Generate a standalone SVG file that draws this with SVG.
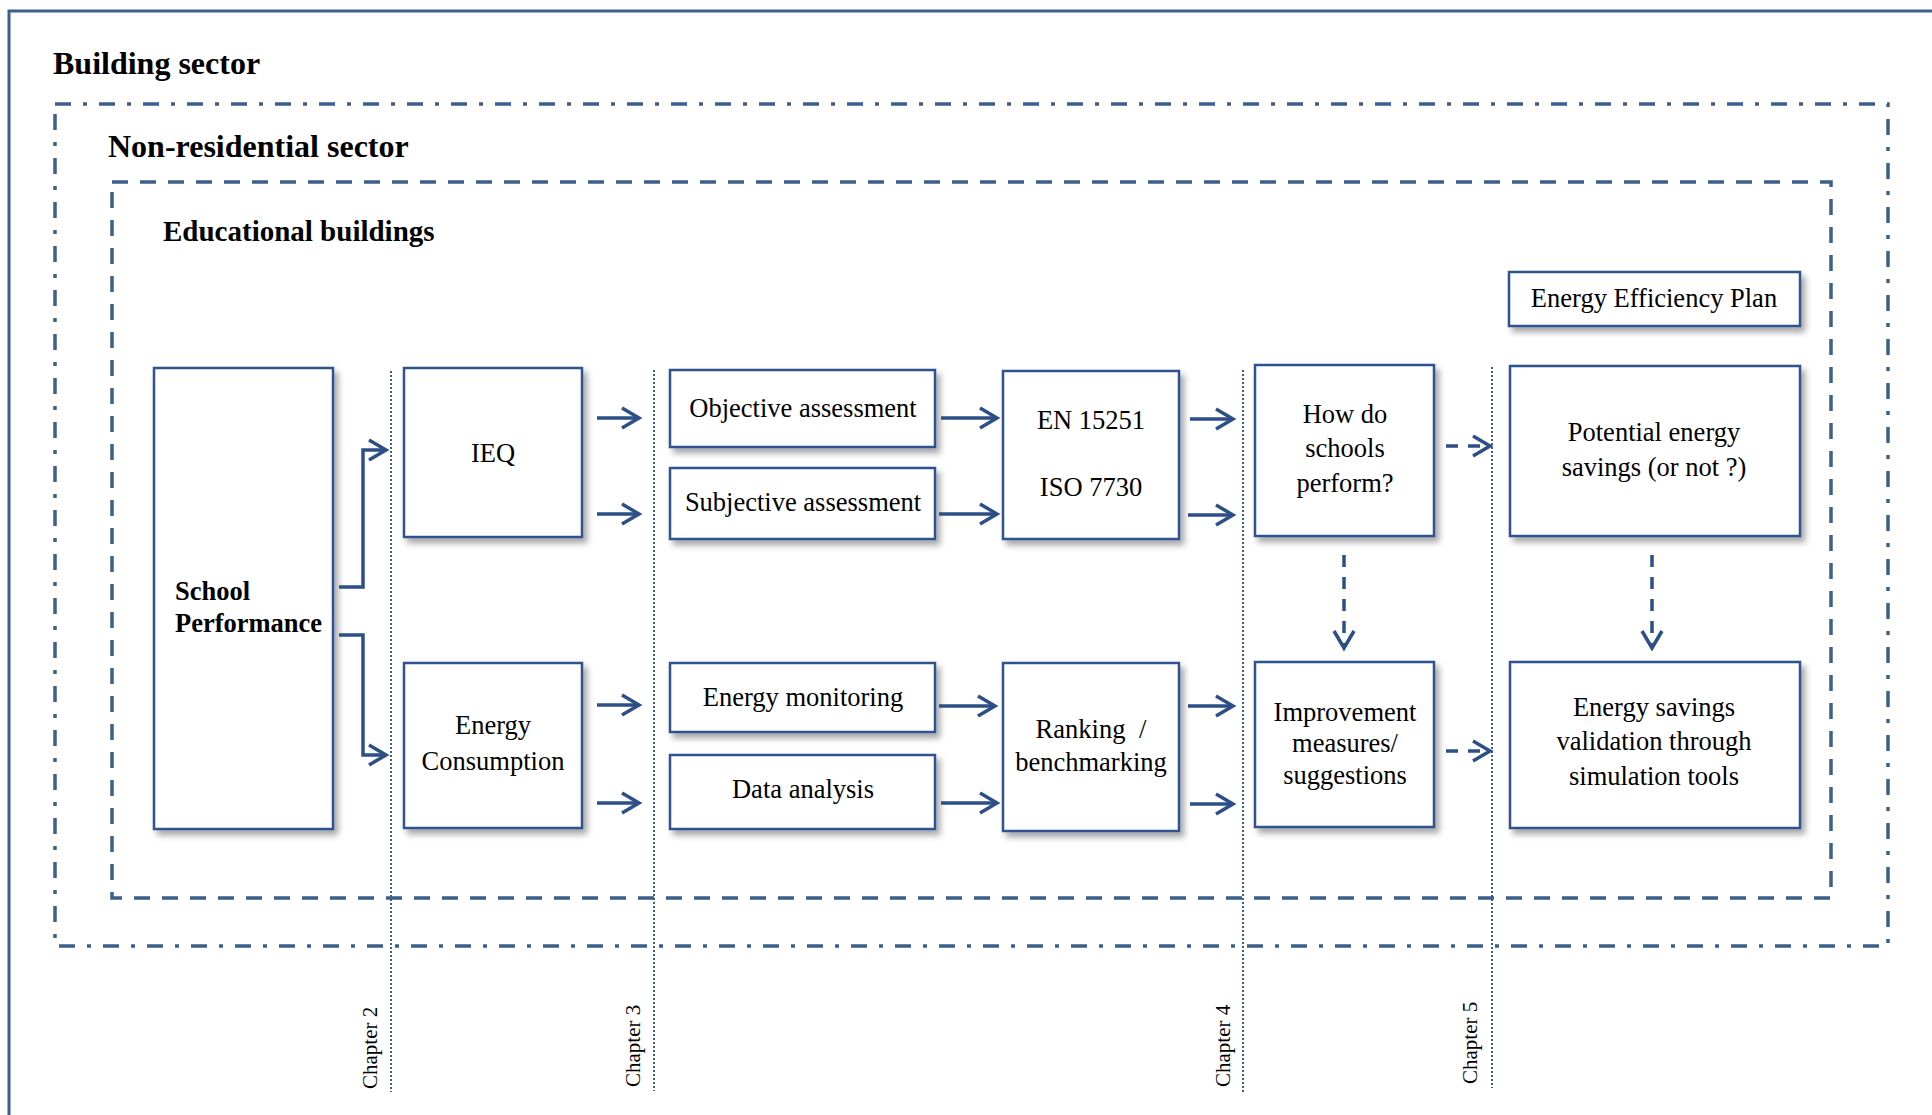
<svg xmlns="http://www.w3.org/2000/svg" width="1932" height="1115" viewBox="0 0 1932 1115">
<defs>
<style>
.frame{fill:none;stroke:#3d5f8c;}
.box{fill:#ffffff;stroke:#2f528f;stroke-width:2.5;filter:url(#sh);}
.t{font-family:"Liberation Serif","Times New Roman",serif;font-size:26.5px;fill:#000;text-anchor:middle;}
.tb{font-family:"Liberation Serif","Times New Roman",serif;font-weight:bold;fill:#000;}
.ch{font-family:"Liberation Serif","Times New Roman",serif;font-size:21px;fill:#000;}
.arr{fill:none;stroke:#2b4f86;stroke-width:3.5;marker-end:url(#ah);}
.darr{fill:none;stroke:#2b4f86;stroke-width:3.5;stroke-dasharray:12,10;marker-end:url(#ah);}
.chl{fill:none;stroke:#3d5f8c;stroke-width:2;stroke-dasharray:2,2;}
</style>
<filter id="sh" x="-10%" y="-10%" width="130%" height="130%">
<feDropShadow dx="4" dy="5" stdDeviation="3" flood-color="#000" flood-opacity="0.35"/>
</filter>
<marker id="ah" viewBox="-20 -12 24 24" markerWidth="24" markerHeight="24" refX="0" refY="0" orient="auto" markerUnits="userSpaceOnUse">
<path d="M-17,-10 L0,0 L-17,10" fill="none" stroke="#2b4f86" stroke-width="3.5" stroke-linejoin="miter"/>
</marker>
</defs>

<g id="frames">
<rect class="frame" x="9" y="11" width="2000" height="2000" stroke-width="3"/>
<rect class="frame" x="55" y="104" width="1833" height="842" stroke-width="3.5" stroke-dasharray="16,12,4,12"/>
<rect class="frame" x="112" y="182" width="1719" height="716" stroke-width="3.5" stroke-dasharray="16,12"/>
<text class="tb" x="53" y="74" font-size="32">Building sector</text>
<text class="tb" x="108" y="157" font-size="32">Non-residential sector</text>
<text class="tb" x="163" y="241" font-size="29">Educational buildings</text>
</g>

<g id="chapters">
<line class="chl" x1="391" y1="371" x2="391" y2="1092"/>
<line class="chl" x1="654" y1="370" x2="654" y2="1091"/>
<line class="chl" x1="1243" y1="370" x2="1243" y2="1092"/>
<line class="chl" x1="1492" y1="367" x2="1492" y2="1088" stroke-width="3" stroke-dasharray="3,3"/>
<text class="ch" transform="translate(377,1089) rotate(-90)">Chapter 2</text>
<text class="ch" transform="translate(640,1087) rotate(-90)">Chapter 3</text>
<text class="ch" transform="translate(1230,1087) rotate(-90)">Chapter 4</text>
<text class="ch" transform="translate(1477,1084) rotate(-90)">Chapter 5</text>
</g>

<g id="n-school">
<rect class="box" x="154" y="368" width="179" height="461"/>
<text class="tb" font-size="26.5" x="175" y="600">School</text>
<text class="tb" font-size="26.5" x="175" y="632">Performance</text>
</g>
<g id="n-ieq">
<rect class="box" x="404" y="368" width="178" height="169"/>
<text class="t" x="493" y="462">IEQ</text>
</g>
<g id="n-energy">
<rect class="box" x="404" y="663" width="178" height="165"/>
<text class="t" x="493" y="734">Energy</text>
<text class="t" x="493" y="770">Consumption</text>
</g>
<g id="n-objective">
<rect class="box" x="670" y="370" width="265" height="77"/>
<text class="t" x="803" y="417">Objective assessment</text>
</g>
<g id="n-subjective">
<rect class="box" x="670" y="468" width="265" height="71"/>
<text class="t" x="803" y="511">Subjective assessment</text>
</g>
<g id="n-en">
<rect class="box" x="1003" y="371" width="176" height="168"/>
<text class="t" x="1091" y="429">EN 15251</text>
<text class="t" x="1091" y="496">ISO 7730</text>
</g>
<g id="n-monitoring">
<rect class="box" x="670" y="663" width="265" height="69"/>
<text class="t" x="803" y="706">Energy monitoring</text>
</g>
<g id="n-data">
<rect class="box" x="670" y="755" width="265" height="74"/>
<text class="t" x="803" y="798">Data analysis</text>
</g>
<g id="n-ranking">
<rect class="box" x="1003" y="663" width="176" height="168"/>
<text class="t" x="1091" y="738">Ranking <tspan dx="7">/</tspan></text>
<text class="t" x="1091" y="771">benchmarking</text>
</g>
<g id="n-how">
<rect class="box" x="1255" y="365" width="179" height="171"/>
<text class="t" x="1345" y="423">How do</text>
<text class="t" x="1345" y="457">schools</text>
<text class="t" x="1345" y="492">perform?</text>
</g>
<g id="n-improvement">
<rect class="box" x="1255" y="662" width="179" height="165"/>
<text class="t" x="1345" y="721">Improvement</text>
<text class="t" x="1345" y="752">measures/</text>
<text class="t" x="1345" y="784">suggestions</text>
</g>
<g id="n-eep">
<rect class="box" x="1509" y="272" width="291" height="54"/>
<text class="t" x="1654" y="307">Energy Efficiency Plan</text>
</g>
<g id="n-potential">
<rect class="box" x="1510" y="366" width="290" height="170"/>
<text class="t" x="1654" y="441">Potential energy</text>
<text class="t" x="1654" y="476">savings (or not ?)</text>
</g>
<g id="n-savings">
<rect class="box" x="1510" y="662" width="290" height="166"/>
<text class="t" x="1654" y="716">Energy savings</text>
<text class="t" x="1654" y="750">validation through</text>
<text class="t" x="1654" y="785">simulation tools</text>
</g>

<g id="connectors">
<polyline class="arr" points="339,587 363,587 363,450 386,450"/>
<polyline class="arr" points="339,635 363,635 363,755 386,755"/>
<line class="arr" x1="597" y1="418" x2="639" y2="418"/>
<line class="arr" x1="597" y1="514" x2="639" y2="514"/>
<line class="arr" x1="597" y1="705" x2="639" y2="705"/>
<line class="arr" x1="597" y1="803" x2="639" y2="803"/>
<line class="arr" x1="941" y1="418" x2="997" y2="418"/>
<line class="arr" x1="939" y1="514" x2="997" y2="514"/>
<line class="arr" x1="939" y1="706" x2="995" y2="706"/>
<line class="arr" x1="941" y1="803" x2="997" y2="803"/>
<line class="arr" x1="1190" y1="419" x2="1233" y2="419"/>
<line class="arr" x1="1188" y1="515" x2="1233" y2="515"/>
<line class="arr" x1="1188" y1="706" x2="1233" y2="706"/>
<line class="arr" x1="1190" y1="804" x2="1233" y2="804"/>
<line class="darr" x1="1446" y1="446" x2="1490" y2="446"/>
<line class="darr" x1="1446" y1="751" x2="1490" y2="751"/>
<line class="darr" x1="1344" y1="555" x2="1344" y2="648"/>
<line class="darr" x1="1652" y1="555" x2="1652" y2="648"/>
</g>
</svg>
